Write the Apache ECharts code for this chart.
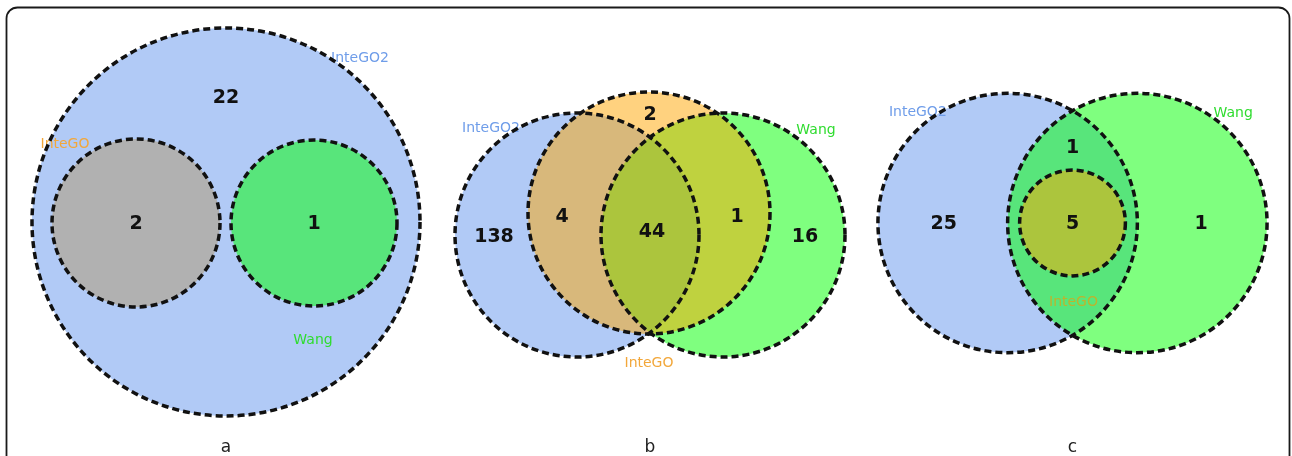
<!DOCTYPE html>
<html>
<head>
<meta charset="utf-8">
<script src="https://cdn.jsdelivr.net/npm/echarts@6/dist/echarts.min.js"></script>
<style>
  html, body { margin: 0; padding: 0; background: #ffffff; }
  #chart { width: 1292px; height: 456px; }
</style>
</head>
<body>
<div id="chart"></div>
<script>
// ---- Data (Venn geometry in data units: [set, centerX, centerY, radius]) ----
const panelNames = ['a', 'b', 'c'];

const circlesA = [['InteGO2', 0.00, 0.00, 1.94], ['Wang', 0.88, -0.01, 0.83], ['InteGO', -0.90, -0.01, 0.84]];
const circlesB = [['InteGO2', -0.73, -0.13, 1.22], ['Wang', 0.73, -0.13, 1.22], ['InteGO', -0.01, 0.09, 1.21]];
const circlesC = [['InteGO2', -0.65, -0.01, 1.30], ['Wang', 0.65, -0.01, 1.30], ['InteGO', 0.00, -0.01, 0.53]];

// region counts: [count, x, y]
const countsA = [[22, 0.00, 1.24], [2, -0.90, -0.02], [1, 0.88, -0.02]];
const countsB = [[2, 0.00, 1.07], [138, -1.56, -0.15], [4, -0.88, 0.05], [44, 0.02, -0.10], [1, 0.87, 0.05], [16, 1.55, -0.15]];
const countsC = [[1, 0.00, 0.74], [25, -1.29, -0.02], [5, 0.00, -0.02], [1, 1.29, -0.02]];

// set name labels: [set, x, y]
const setLabelsA = [['InteGO2', 1.34, 1.64], ['InteGO', -1.61, 0.78], ['Wang', 0.87, -1.18]];
const setLabelsB = [['InteGO2', -1.59, 0.94], ['Wang', 1.66, 0.92], ['InteGO', -0.01, -1.41]];
const setLabelsC = [['InteGO2', -1.55, 1.10], ['Wang', 1.61, 1.09], ['InteGO', 0.01, -0.80]];

// ---- Styles ----
const fillBySet = {
  'InteGO2': 'rgba(100,149,237,0.5)',
  'Wang': 'rgba(0,255,0,0.5)',
  'InteGO': 'rgba(255,165,0,0.5)'
};
const fillOverride = { 'a:InteGO': '#b1b1b1' };
const labelColorBySet = { 'InteGO2': '#6f9de9', 'Wang': '#2fdc2f', 'InteGO': '#f2a73a' };
const labelColorOverride = { 'c:InteGO': '#bdb42e' };

const panelCenterPx = [226, 650, 1073];

const chart = echarts.init(document.getElementById('chart'), null, { renderer: 'canvas' });

const grids = [], xAxes = [], yAxes = [], series = [];
const allCircles = [circlesA, circlesB, circlesC];
const allCounts = [countsA, countsB, countsC];
const allSetLabels = [setLabelsA, setLabelsB, setLabelsC];

panelNames.forEach((p, i) => {
  grids.push({ left: panelCenterPx[i] - 220, top: 2, width: 440, height: 450, containLabel: false });
  xAxes.push({ type: 'value', gridIndex: i, min: -2.2, max: 2.2, show: false });
  yAxes.push({ type: 'value', gridIndex: i, min: -2.3, max: 2.2, show: false });

  // fills
  series.push({
    type: 'custom', xAxisIndex: i, yAxisIndex: i, silent: true, z: 1,
    data: allCircles[i].map(c => [c[1], c[2], c[3]]),
    renderItem: (params, api) => {
      const set = allCircles[i][params.dataIndex][0];
      const pt = api.coord([api.value(0), api.value(1)]);
      const r = api.size([api.value(2), 0])[0];
      return {
        type: 'circle',
        shape: { cx: pt[0], cy: pt[1], r: r },
        style: { fill: fillOverride[p + ':' + set] || fillBySet[set], stroke: null }
      };
    }
  });

  // set labels
  series.push({
    type: 'custom', xAxisIndex: i, yAxisIndex: i, silent: true, z: 2,
    data: allSetLabels[i].map(s => [s[1], s[2]]),
    renderItem: (params, api) => {
      const set = allSetLabels[i][params.dataIndex][0];
      const pt = api.coord([api.value(0), api.value(1)]);
      return {
        type: 'text', x: pt[0], y: pt[1],
        style: {
          text: set, fill: labelColorOverride[p + ':' + set] || labelColorBySet[set],
          font: '14px "DejaVu Sans"', align: 'center', verticalAlign: 'middle'
        }
      };
    }
  });

  // dashed outlines
  series.push({
    type: 'custom', xAxisIndex: i, yAxisIndex: i, silent: true, z: 3,
    data: allCircles[i].map(c => [c[1], c[2], c[3]]),
    renderItem: (params, api) => {
      const pt = api.coord([api.value(0), api.value(1)]);
      const r = api.size([api.value(2), 0])[0];
      return {
        type: 'circle',
        shape: { cx: pt[0], cy: pt[1], r: r },
        style: { fill: null, stroke: '#111111', lineWidth: 3.5, lineDash: [7, 4] }
      };
    }
  });

  // region counts
  series.push({
    type: 'custom', xAxisIndex: i, yAxisIndex: i, silent: true, z: 4,
    data: allCounts[i].map(c => [c[1], c[2], c[0]]),
    renderItem: (params, api) => {
      const pt = api.coord([api.value(0), api.value(1)]);
      return {
        type: 'text', x: pt[0], y: pt[1],
        style: {
          text: String(api.value(2)), fill: '#111111',
          font: 'bold 19px "DejaVu Sans"', align: 'center', verticalAlign: 'middle'
        }
      };
    }
  });

  // panel letter
  series.push({
    type: 'custom', xAxisIndex: i, yAxisIndex: i, silent: true, z: 4,
    data: [[0, -2.26]],
    renderItem: (params, api) => {
      const pt = api.coord([api.value(0), api.value(1)]);
      return {
        type: 'text', x: pt[0], y: pt[1],
        style: {
          text: p, fill: '#222222',
          font: '17px "DejaVu Sans"', align: 'center', verticalAlign: 'middle'
        }
      };
    }
  });
});

chart.setOption({
  backgroundColor: '#ffffff',
  animation: false,
  grid: grids,
  xAxis: xAxes,
  yAxis: yAxes,
  series: series,
  graphic: [{
    type: 'rect', silent: true, z: 0,
    shape: { x: 6.5, y: 7.5, width: 1283, height: 480, r: 11 },
    style: { fill: null, stroke: '#1a1a1a', lineWidth: 1.8 }
  }]
});
</script>
</body>
</html>
